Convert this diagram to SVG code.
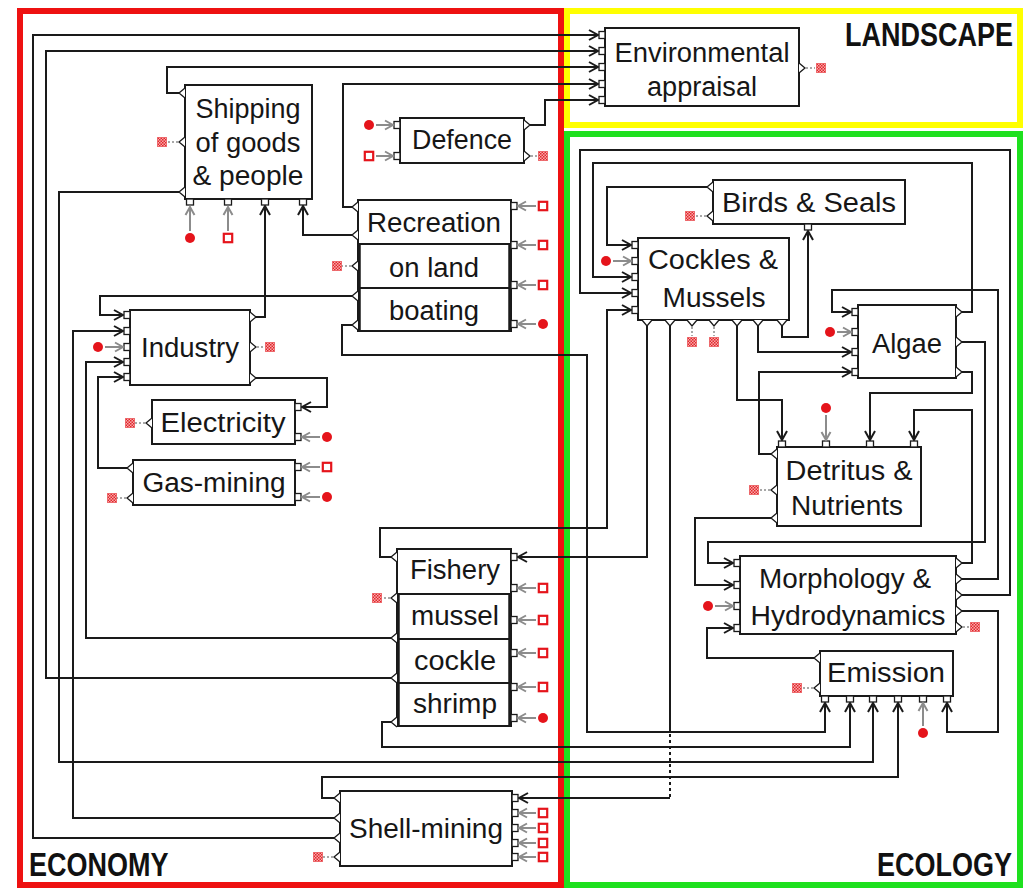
<svg xmlns="http://www.w3.org/2000/svg" width="1025" height="889" viewBox="0 0 1025 889">
<style>
.box{fill:#fff;stroke:#1a1a1a;stroke-width:2}
.thk{stroke:#1a1a1a;stroke-width:3.5}
.div{stroke:#1a1a1a;stroke-width:2}
.t{font-family:"Liberation Sans",Arial,sans-serif;font-size:27px;fill:#161616;text-anchor:middle}
.lbl{font-family:"Liberation Sans",Arial,sans-serif;font-weight:bold;font-size:27px;fill:#111}
.port{fill:#fff;stroke:#1a1a1a;stroke-width:1.3}
.c{fill:none;stroke:#1a1a1a;stroke-width:2;marker-end:url(#a)}
.ga{fill:none;stroke:#8c8c8c;stroke-width:2;marker-end:url(#g)}
.dl{fill:none;stroke:#8c8c8c;stroke-width:1.5;stroke-dasharray:2 2}
</style>
<defs>
<marker id="a" markerWidth="12" markerHeight="12" refX="10" refY="6" orient="auto" markerUnits="userSpaceOnUse"><path d="M1,1 L10,6 L1,11" fill="none" stroke="#1a1a1a" stroke-width="2"/></marker>
<marker id="g" markerWidth="12" markerHeight="12" refX="10" refY="6" orient="auto" markerUnits="userSpaceOnUse"><path d="M2,1.5 L10,6 L2,10.5" fill="none" stroke="#8c8c8c" stroke-width="2"/></marker>
<pattern id="hatch" width="3" height="3" patternUnits="userSpaceOnUse"><rect width="3" height="3" fill="#f6a8a8"/><rect width="1.5" height="1.5" fill="#e3262c"/><rect x="1.5" y="1.5" width="1.5" height="1.5" fill="#e3262c"/></pattern>
<rect id="pi" class="port" x="-3" y="-3.5" width="6" height="7"/>
<rect id="pv" class="port" x="-3.5" y="-3" width="7" height="6"/>
<path id="oL" class="port" d="M0,-5 L-6,0 L0,5"/>
<path id="oR" class="port" d="M0,-5 L6,0 L0,5"/>
<path id="oD" class="port" d="M-5,0 L0,6 L5,0"/>
<circle id="src" r="5" fill="#e5141b"/>
<rect id="pol" x="-4.2" y="-4.2" width="8.4" height="8.4" fill="#fff" stroke="#e5141b" stroke-width="2.2"/>
<rect id="snk" x="-5" y="-5" width="10" height="10" fill="url(#hatch)"/>
</defs>
<rect width="1025" height="889" fill="#fff"/>

<g id="frames" fill="none" stroke-width="6">
<rect x="567" y="11" width="453" height="114" stroke="#ffff00"/>
<rect x="567" y="134" width="453" height="751" stroke="#1ee01e"/>
<rect x="20" y="11" width="541" height="874" stroke="#ee1111"/>
</g>
<g id="labels">
<text class="lbl" transform="translate(845,46) scale(1,1.2)">LANDSCAPE</text>
<text class="lbl" transform="translate(29,876) scale(1,1.2)">ECONOMY</text>
<text class="lbl" transform="translate(877,876) scale(1,1.2)">ECOLOGY</text>
</g>

<g id="connectors">
<path class="c" d="M334,838 H33 V35 H598"/>
<path class="c" d="M391,678 H46 V51 H598"/>
<path class="c" d="M179,93 H167 V67 H598"/>
<path class="c" d="M352,207 H343 V84 H598"/>
<path class="c" d="M530,125 H545 V100 H598"/>
<path class="c" d="M352,235 H303 V206"/>
<path class="c" d="M256,317 H265 V206"/>
<path class="c" d="M352,296 H100 V315 H123"/>
<path class="c" d="M334,818 H73 V331 H123"/>
<path class="c" d="M391,638 H86 V362 H123"/>
<path class="c" d="M127,468 H98 V377 H123"/>
<path class="c" d="M256,378 H327 V407 H302"/>
<path class="c" d="M179,192 H59 V762 H873 V703"/>
<path class="c" d="M352,325 H342 V355 H587 V732 H825 V703"/>
<path class="c" d="M391,722 H382 V747 H850 V703"/>
<path class="c" d="M334,798 H322 V777 H898 V703"/>
<path class="c" d="M391,557 H380 V528 H607 V310 H631"/>
<path class="c" d="M647,326 V557 H518"/>
<path fill="none" stroke="#1a1a1a" stroke-width="2" d="M670,326 V728"/>
<path fill="none" stroke="#1a1a1a" stroke-width="2" stroke-dasharray="3 3" d="M670,728 V798"/>
<path class="c" d="M670,798 H519"/>
<path class="c" d="M707,187 H607 V245 H631"/>
<path class="c" d="M962,312 H972 V163 H593 V277 H631"/>
<path class="c" d="M962,595 H1010 V150 H580 V293 H631"/>
<path class="c" d="M962,579 H998 V290 H832 V312 H851"/>
<path class="c" d="M782,326 V337 H808 V231"/>
<path class="c" d="M758,326 V352 H851"/>
<path class="c" d="M737,326 V400 H782 V440"/>
<path class="c" d="M771,454 H759 V372 H851"/>
<path class="c" d="M962,372 H972 V393 H870 V440"/>
<path class="c" d="M962,563 H972 V410 H914 V440"/>
<path class="c" d="M962,342 H985 V542 H708 V563 H733"/>
<path class="c" d="M771,518 H695 V585 H733"/>
<path class="c" d="M814,658 H707 V628 H733"/>
<path class="c" d="M962,611 H998 V732 H947 V703"/>
</g>

<g id="env">
<rect class="box" x="605" y="28" width="194" height="78"/>
<text class="t" x="702" y="62" textLength="175" lengthAdjust="spacingAndGlyphs">Environmental</text>
<text class="t" x="702" y="96" textLength="110" lengthAdjust="spacingAndGlyphs">appraisal</text>
<use href="#pi" x="602" y="35"/><use href="#pi" x="602" y="51"/><use href="#pi" x="602" y="67"/><use href="#pi" x="602" y="84"/><use href="#pi" x="602" y="100"/>
<use href="#oR" x="799" y="68"/><path class="dl" d="M806,68 H815"/><use href="#snk" x="821" y="68"/>
</g>

<g id="shipping">
<rect class="box" x="185" y="85" width="127" height="114"/>
<text class="t" x="248" y="118" textLength="105" lengthAdjust="spacingAndGlyphs">Shipping</text>
<text class="t" x="248" y="152" textLength="105" lengthAdjust="spacingAndGlyphs">of goods</text>
<text class="t" x="248" y="185" textLength="111" lengthAdjust="spacingAndGlyphs">&amp; people</text>
<use href="#oL" x="185" y="93"/><use href="#oL" x="185" y="142"/><use href="#oL" x="185" y="192"/>
<path class="dl" d="M178,142 H168"/><use href="#snk" x="162" y="142"/>
<use href="#pv" x="190" y="202"/><use href="#pv" x="228" y="202"/><use href="#pv" x="265" y="202"/><use href="#pv" x="303" y="202"/>
<path class="ga" d="M190,231 V207"/><use href="#src" x="190" y="238"/>
<path class="ga" d="M228,231 V207"/><use href="#pol" x="228" y="238"/>
</g>

<g id="defence">
<rect class="box" x="400" y="118" width="124" height="45"/>
<text class="t" x="462" y="149" textLength="100" lengthAdjust="spacingAndGlyphs">Defence</text>
<use href="#pi" x="397" y="125"/><use href="#pi" x="397" y="156"/>
<use href="#src" x="369" y="125"/><path class="ga" d="M376,125 H393"/>
<use href="#pol" x="369" y="156"/><path class="ga" d="M376,156 H393"/>
<use href="#oR" x="524" y="125"/><use href="#oR" x="524" y="156"/>
<path class="dl" d="M531,156 H538"/><use href="#snk" x="543" y="156"/>
</g>

<g id="recreation">
<rect class="box" x="358" y="200" width="153" height="131"/>
<line class="div" x1="358" y1="244" x2="511" y2="244"/>
<line class="div" x1="358" y1="288" x2="511" y2="288"/>
<line class="thk" x1="359" y1="244" x2="359" y2="331"/>
<line class="thk" x1="510" y1="244" x2="510" y2="331"/>
<text class="t" x="434" y="232" textLength="134" lengthAdjust="spacingAndGlyphs">Recreation</text>
<text class="t" x="434" y="277" textLength="90" lengthAdjust="spacingAndGlyphs">on land</text>
<text class="t" x="434" y="320" textLength="90" lengthAdjust="spacingAndGlyphs">boating</text>
<use href="#oL" x="358" y="207"/><use href="#oL" x="358" y="235"/><use href="#oL" x="358" y="266"/><use href="#oL" x="358" y="296"/><use href="#oL" x="358" y="325"/>
<path class="dl" d="M351,266 H342"/><use href="#snk" x="337" y="266"/>
<use href="#pi" x="514" y="206"/><use href="#pi" x="514" y="245"/><use href="#pi" x="514" y="285"/><use href="#pi" x="514" y="324"/>
<path class="ga" d="M536,206 H518"/><path class="ga" d="M536,245 H518"/><path class="ga" d="M536,285 H518"/><path class="ga" d="M536,324 H518"/>
<use href="#pol" x="543" y="206"/><use href="#pol" x="543" y="245"/><use href="#pol" x="543" y="285"/><use href="#src" x="543" y="324"/>
</g>

<g id="industry">
<rect class="box" x="130" y="310" width="120" height="75"/>
<text class="t" x="190" y="357" textLength="98" lengthAdjust="spacingAndGlyphs">Industry</text>
<use href="#pi" x="127" y="315"/><use href="#pi" x="127" y="331"/><use href="#pi" x="127" y="347"/><use href="#pi" x="127" y="362"/><use href="#pi" x="127" y="377"/>
<use href="#src" x="98" y="347"/><path class="ga" d="M105,347 H123"/>
<use href="#oR" x="250" y="317"/><use href="#oR" x="250" y="347"/><use href="#oR" x="250" y="378"/>
<path class="dl" d="M257,347 H265"/><use href="#snk" x="270" y="347"/>
</g>

<g id="electricity">
<rect class="box" x="152" y="400" width="143" height="44"/>
<text class="t" x="223" y="432" textLength="125" lengthAdjust="spacingAndGlyphs">Electricity</text>
<use href="#oL" x="152" y="423"/><path class="dl" d="M145,423 H135"/><use href="#snk" x="130" y="423"/>
<use href="#pi" x="298" y="407"/><use href="#pi" x="298" y="437"/>
<path class="ga" d="M320,437 H302"/><use href="#src" x="327" y="437"/>
</g>

<g id="gasmining">
<rect class="box" x="133" y="460" width="162" height="45"/>
<text class="t" x="214" y="492" textLength="143" lengthAdjust="spacingAndGlyphs">Gas-mining</text>
<use href="#oL" x="133" y="468"/><use href="#oL" x="133" y="498"/>
<path class="dl" d="M126,498 H117"/><use href="#snk" x="112" y="498"/>
<use href="#pi" x="298" y="467"/><use href="#pi" x="298" y="497"/>
<path class="ga" d="M320,467 H302"/><use href="#pol" x="327" y="467"/>
<path class="ga" d="M320,497 H302"/><use href="#src" x="327" y="497"/>
</g>

<g id="fishery">
<rect class="box" x="397" y="549" width="114" height="177"/>
<line class="div" x1="397" y1="594" x2="511" y2="594"/>
<line class="div" x1="397" y1="639" x2="511" y2="639"/>
<line class="div" x1="397" y1="683" x2="511" y2="683"/>
<line class="thk" x1="398" y1="594" x2="398" y2="726"/>
<line class="thk" x1="510" y1="594" x2="510" y2="726"/>
<text class="t" x="455" y="579" textLength="90" lengthAdjust="spacingAndGlyphs">Fishery</text>
<text class="t" x="455" y="625" textLength="88" lengthAdjust="spacingAndGlyphs">mussel</text>
<text class="t" x="455" y="670" textLength="82" lengthAdjust="spacingAndGlyphs">cockle</text>
<text class="t" x="455" y="713" textLength="84" lengthAdjust="spacingAndGlyphs">shrimp</text>
<use href="#oL" x="397" y="557"/><use href="#oL" x="397" y="598"/><use href="#oL" x="397" y="638"/><use href="#oL" x="397" y="678"/><use href="#oL" x="397" y="722"/>
<path class="dl" d="M390,598 H382"/><use href="#snk" x="377" y="598"/>
<use href="#pi" x="514" y="557"/><use href="#pi" x="514" y="588"/><use href="#pi" x="514" y="620"/><use href="#pi" x="514" y="653"/><use href="#pi" x="514" y="687"/><use href="#pi" x="514" y="718"/>
<path class="ga" d="M536,588 H518"/><path class="ga" d="M536,620 H518"/><path class="ga" d="M536,653 H518"/><path class="ga" d="M536,687 H518"/><path class="ga" d="M536,718 H518"/>
<use href="#pol" x="543" y="588"/><use href="#pol" x="543" y="620"/><use href="#pol" x="543" y="653"/><use href="#pol" x="543" y="687"/><use href="#src" x="543" y="718"/>
</g>

<g id="shellmining">
<rect class="box" x="340" y="791" width="172" height="75"/>
<text class="t" x="426" y="838" textLength="154" lengthAdjust="spacingAndGlyphs">Shell-mining</text>
<use href="#oL" x="340" y="798"/><use href="#oL" x="340" y="818"/><use href="#oL" x="340" y="838"/><use href="#oL" x="340" y="857"/>
<path class="dl" d="M333,857 H323"/><use href="#snk" x="318" y="857"/>
<use href="#pi" x="515" y="798"/><use href="#pi" x="515" y="813"/><use href="#pi" x="515" y="828"/><use href="#pi" x="515" y="843"/><use href="#pi" x="515" y="857"/>
<path class="ga" d="M536,813 H519"/><path class="ga" d="M536,828 H519"/><path class="ga" d="M536,843 H519"/><path class="ga" d="M536,857 H519"/>
<use href="#pol" x="543" y="813"/><use href="#pol" x="543" y="828"/><use href="#pol" x="543" y="843"/><use href="#pol" x="543" y="857"/>
</g>

<g id="birds">
<rect class="box" x="713" y="180" width="192" height="44"/>
<text class="t" x="809" y="212" textLength="174" lengthAdjust="spacingAndGlyphs">Birds &amp; Seals</text>
<use href="#oL" x="713" y="187"/><use href="#oL" x="713" y="216"/>
<path class="dl" d="M706,216 H696"/><use href="#snk" x="690" y="216"/>
<use href="#pv" x="808" y="227"/>
</g>

<g id="cockles">
<rect class="box" x="638" y="238" width="151" height="82"/>
<text class="t" x="713" y="269" textLength="130" lengthAdjust="spacingAndGlyphs">Cockles &amp;</text>
<text class="t" x="714" y="307" textLength="103" lengthAdjust="spacingAndGlyphs">Mussels</text>
<use href="#pi" x="635" y="245"/><use href="#pi" x="635" y="261"/><use href="#pi" x="635" y="277"/><use href="#pi" x="635" y="293"/><use href="#pi" x="635" y="310"/>
<use href="#src" x="606" y="261"/><path class="ga" d="M613,261 H631"/>
<use href="#oD" x="647" y="320"/><use href="#oD" x="670" y="320"/><use href="#oD" x="692" y="320"/><use href="#oD" x="714" y="320"/><use href="#oD" x="737" y="320"/><use href="#oD" x="758" y="320"/><use href="#oD" x="782" y="320"/>
<path class="dl" d="M692,327 V336"/><use href="#snk" x="692" y="342"/>
<path class="dl" d="M714,327 V336"/><use href="#snk" x="714" y="342"/>
</g>

<g id="algae">
<rect class="box" x="858" y="305" width="98" height="73"/>
<text class="t" x="907" y="353" textLength="70" lengthAdjust="spacingAndGlyphs">Algae</text>
<use href="#pi" x="855" y="312"/><use href="#pi" x="855" y="332"/><use href="#pi" x="855" y="352"/><use href="#pi" x="855" y="372"/>
<use href="#src" x="830" y="332"/><path class="ga" d="M837,332 H851"/>
<use href="#oR" x="956" y="312"/><use href="#oR" x="956" y="342"/><use href="#oR" x="956" y="372"/>
</g>

<g id="detritus">
<rect class="box" x="777" y="447" width="144" height="79"/>
<text class="t" x="849" y="480" textLength="127" lengthAdjust="spacingAndGlyphs">Detritus &amp;</text>
<text class="t" x="847" y="515" textLength="112" lengthAdjust="spacingAndGlyphs">Nutrients</text>
<use href="#pv" x="782" y="444"/><use href="#pv" x="826" y="444"/><use href="#pv" x="870" y="444"/><use href="#pv" x="914" y="444"/>
<use href="#src" x="826" y="408"/><path class="ga" d="M826,415 V440"/>
<use href="#oL" x="777" y="454"/><use href="#oL" x="777" y="490"/><use href="#oL" x="777" y="518"/>
<path class="dl" d="M770,490 H759"/><use href="#snk" x="754" y="490"/>
</g>

<g id="morphology">
<rect class="box" x="740" y="556" width="216" height="78"/>
<text class="t" x="845" y="588" textLength="172" lengthAdjust="spacingAndGlyphs">Morphology &amp;</text>
<text class="t" x="848" y="625" textLength="195" lengthAdjust="spacingAndGlyphs">Hydrodynamics</text>
<use href="#pi" x="737" y="563"/><use href="#pi" x="737" y="585"/><use href="#pi" x="737" y="606"/><use href="#pi" x="737" y="628"/>
<use href="#src" x="708" y="606"/><path class="ga" d="M715,606 H733"/>
<use href="#oR" x="956" y="563"/><use href="#oR" x="956" y="579"/><use href="#oR" x="956" y="595"/><use href="#oR" x="956" y="611"/><use href="#oR" x="956" y="627"/>
<path class="dl" d="M963,627 H970"/><use href="#snk" x="975" y="627"/>
</g>

<g id="emission">
<rect class="box" x="820" y="651" width="133" height="45"/>
<text class="t" x="886" y="682" textLength="118" lengthAdjust="spacingAndGlyphs">Emission</text>
<use href="#oL" x="820" y="658"/><use href="#oL" x="820" y="688"/>
<path class="dl" d="M813,688 H802"/><use href="#snk" x="797" y="688"/>
<use href="#pv" x="825" y="699"/><use href="#pv" x="850" y="699"/><use href="#pv" x="873" y="699"/><use href="#pv" x="898" y="699"/><use href="#pv" x="923" y="699"/><use href="#pv" x="947" y="699"/>
<use href="#src" x="923" y="733"/><path class="ga" d="M923,726 V703"/>
</g>
</svg>
